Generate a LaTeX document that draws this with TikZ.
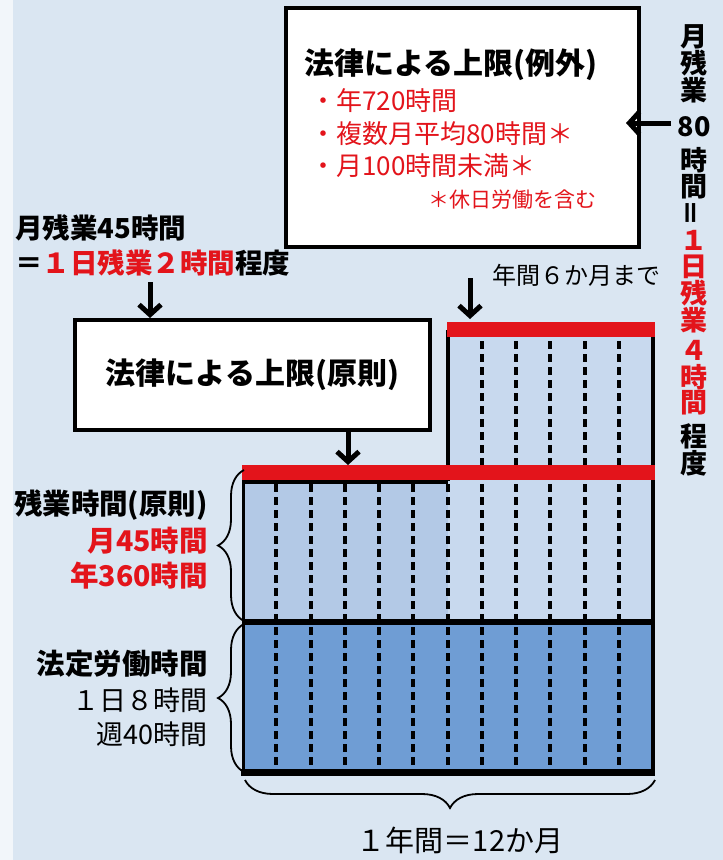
\documentclass[tikz,border=0pt]{standalone}
\usepackage{fontspec}
\setmainfont{Noto Sans CJK JP}
\usetikzlibrary{arrows.meta,decorations.pathreplacing}
\definecolor{bg}{HTML}{DAE6F2}
\definecolor{ovl}{HTML}{B3C9E6}
\definecolor{ovr}{HTML}{C8D9EE}
\definecolor{legal}{HTML}{6F9DD4}
\definecolor{jred}{HTML}{E3141B}
\tikzset{
  box/.style={draw=black, line width=4pt, fill=white, inner sep=0pt},
  arr/.style={line width=5pt, -{Straight Barb[length=10pt,width=22pt,line width=5pt]}},
  mdash/.style={line width=4pt, dash pattern=on 8pt off 5pt},
  brc/.style={line width=1.8pt, decorate, decoration={brace, amplitude=#1}},
  txt/.style={inner sep=0pt},
  fbig/.style={font=\fontsize{30pt}{32pt}\selectfont\bfseries},
  flab/.style={font=\fontsize{28.5pt}{30pt}\selectfont\bfseries},
  fred/.style={font=\fontsize{26pt}{28pt}\selectfont, text=jred},
  fvert/.style={font=\fontsize{27pt}{29pt}\selectfont\bfseries},
}
\begin{document}
\begin{tikzpicture}[x=1pt,y=-1pt]
\fill[bg] (0,0) rectangle (723,860);
\fill[white!65!bg] (0,0) rectangle (13,860);
\useasboundingbox (0,0) rectangle (723,860);

% chart fills
\fill[ovr] (448,330) rectangle (653,622);
\fill[ovl] (242,472) rectangle (448,622);
\fill[legal] (242,622) rectangle (653,772);

% dashed month lines
\foreach \k in {1,...,6} {
  \draw[mdash] ({242+34.25*\k},484) -- ({242+34.25*\k},772);
}
\foreach \k in {7,...,11} {
  \draw[mdash] ({242+34.25*\k},341) -- ({242+34.25*\k},772);
}

% solid lines
\draw[line width=3.5pt] (448,330) -- (448,481);
\draw[line width=3.5pt] (653,330) -- (653,774);
\draw[line width=3pt] (243,472) -- (243,772);
\draw[line width=3.5pt] (242,482) -- (448,482);
\draw[line width=6pt] (242,622) -- (654,622);
\draw[line width=7pt] (241,772) -- (655,772);

% red limit bars
\fill[jred] (447,322) rectangle (655,337);
\fill[jred] (242,465) rectangle (655,480);
\coordinate (barlow) at (348,465);
\coordinate (bartop) at (470,319);

% boxes
\node[box, minimum width=353pt, minimum height=239pt] (reigai) at (462.5,127.5) {};
\node[box, fbig, minimum width=355pt, minimum height=110pt] (gensoku) at (252.5,375) {法律による上限(原則)};

% texts in exception box
\node[txt, fbig, anchor=west] (t1) at (304,65) {法律による上限(例外)};
\node[txt, fred, anchor=west] (t2) at (310,101) {・年720時間};
\node[txt, fred, anchor=west] (t3) at (310,134) {・複数月平均80時間＊};
\node[txt, fred, anchor=west] (t4) at (310,166) {・月100時間未満＊};
\node[txt, font=\fontsize{21pt}{23pt}\selectfont, text=jred, anchor=west] (t5) at (428,200) {＊休日労働を含む};

% top-left annotation
\node[txt, font=\fontsize{27.5pt}{29pt}\selectfont\bfseries, anchor=west] (m45) at (15,228) {月残業45時間};
\node[txt, font=\fontsize{27.5pt}{29pt}\selectfont\bfseries, anchor=west] (m45b) at (15,263) {＝\textcolor{jred}{１日残業２時間}程度};
\coordinate (a45) at (150,282);
\draw[arr] (a45) -- (a45 |- gensoku.north);

% arrow from principle box down to bar
\draw[arr] (gensoku.south -| barlow) -- (barlow);

% six months label
\node[txt, font=\fontsize{24pt}{26pt}\selectfont, anchor=west] (six) at (492,275) {年間６か月まで};
\coordinate (sixs) at (470,278);
\draw[arr] (sixs) -- (bartop);

% right vertical text
\foreach \yy/\tt in {37/月,63/残,90/業,127/80,160/時,187/間,436/程,463/度} {
  \node[txt, fvert] at (694,\yy) {\tt};
}
\node[txt, fvert, rotate=90] (veq) at (694,213) {＝};
\foreach \yy/\tt in {240/１,267/日,293/残,320/業,350/４,377/時,403/間} {
  \node[txt, fvert, text=jred] at (694,\yy) {\tt};
}
\coordinate (a80) at (671,123);
\coordinate (a80e) at (626,123);
\draw[arr] (a80) -- (a80e);

% braces
\draw[brc=26pt] (244,621) -- (244,470);
\draw[brc=26pt] (244,772) -- (244,624);
\draw[brc=28pt] (655,780) -- (245,780);

% left labels
\node[txt, flab, anchor=east] (l1) at (208,505) {残業時間(原則)};
\node[txt, flab, text=jred, anchor=east] (l2) at (208,541) {月45時間};
\node[txt, flab, text=jred, anchor=east] (l3) at (208,576) {年360時間};
\node[txt, flab, anchor=east] (l4) at (208,664) {法定労働時間};
\node[txt, font=\fontsize{27pt}{29pt}\selectfont, anchor=east] (l5) at (208,700) {１日８時間};
\node[txt, font=\fontsize{27pt}{29pt}\selectfont, anchor=east] (l6) at (208,734) {週40時間};

% bottom label
\node[txt, font=\fontsize{29pt}{31pt}\selectfont] (year) at (460,840) {１年間＝12か月};
\end{tikzpicture}
\end{document}
